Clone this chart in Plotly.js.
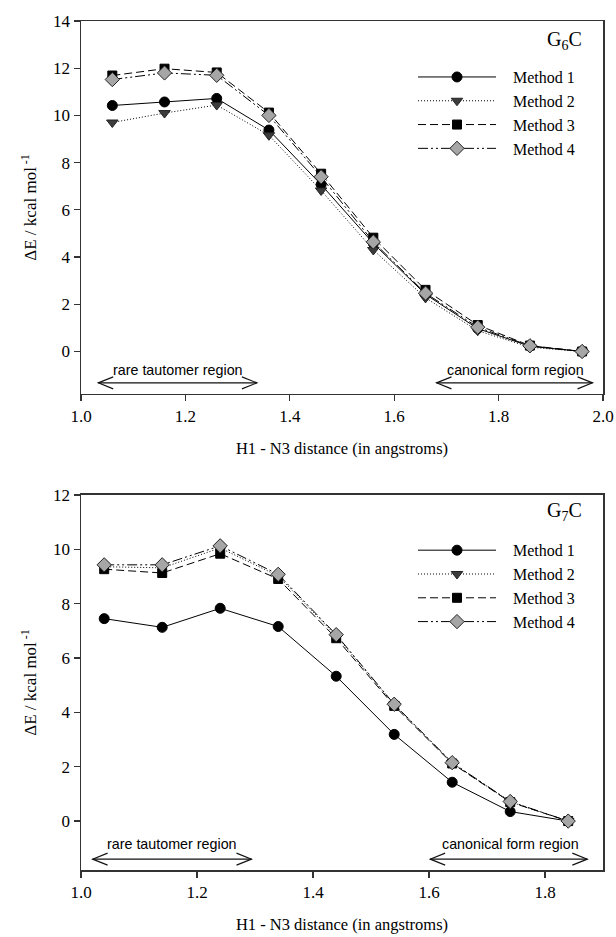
<!DOCTYPE html>
<html>
<head>
<meta charset="utf-8">
<script src="https://cdn.plot.ly/plotly-3.0.1.min.js"></script>
<style>html,body{margin:0;padding:0;background:#fff;}#chart{width:616px;height:937px;}</style>
</head>
<body>
<div id="chart"></div>
<script>
// ---- data ----
const methodNames = ["Method 1", "Method 2", "Method 3", "Method 4"];

const xG6C = [1.06, 1.16, 1.26, 1.36, 1.46, 1.56, 1.66, 1.76, 1.86, 1.96];
const g6cMethod1 = [10.42, 10.57, 10.72, 9.38, 7.07, 4.58, 2.42, 0.97, 0.22, 0];
const g6cMethod2 = [9.70, 10.10, 10.44, 9.16, 6.82, 4.30, 2.27, 0.88, 0.18, 0];
const g6cMethod3 = [11.69, 11.98, 11.82, 10.12, 7.53, 4.82, 2.61, 1.12, 0.25, 0];
const g6cMethod4 = [11.52, 11.80, 11.70, 10.00, 7.40, 4.64, 2.47, 1.03, 0.24, 0];

const xG7C = [1.04, 1.14, 1.24, 1.34, 1.44, 1.54, 1.64, 1.74, 1.84];
const g7cMethod1 = [7.45, 7.13, 7.83, 7.16, 5.33, 3.19, 1.43, 0.35, 0];
const g7cMethod2 = [9.36, 9.32, 10.05, 9.02, 6.82, 4.29, 2.14, 0.71, 0];
const g7cMethod3 = [9.27, 9.13, 9.84, 8.91, 6.73, 4.24, 2.12, 0.70, 0];
const g7cMethod4 = [9.43, 9.43, 10.13, 9.08, 6.86, 4.30, 2.15, 0.72, 0];

const xTitle = "H1 - N3 distance (in angstroms)";
const yTitle = "ΔE / kcal mol<sup> -1</sup>";
const panelLabels = ["G<sub>6</sub>C", "G<sub>7</sub>C"];
const regionLabels = ["rare tautomer region", "canonical form region"];
// region spans (x from, x to) per panel
const g6cRegions = [[1.033, 1.337], [1.681, 1.98]];
const g7cRegions = [[1.02, 1.294], [1.602, 1.873]];

// ---- styles ----
const SERIF = "Liberation Serif, Times New Roman, serif";
const SANS = "Liberation Sans, Arial, sans-serif";
const styles = [
  {dash: "solid", symbol: "circle", size: 10, color: "#000", lc: "#000"},
  {dash: "1px,2px", symbol: "triangle-down", size: 10, color: "#3c3c3c", lc: "#222"},
  {dash: "8px,4px", symbol: "square", size: 9, color: "#000", lc: "#000"},
  {dash: "10px,3px,2px,3px,2px,3px", symbol: "diamond", size: 11, color: "#a6a6a6", lc: "#222"}
];

function makeTraces(x, series, xa, ya, legendId) {
  return series.map((y, i) => ({
    type: "scatter", mode: "lines+markers",
    x: x, y: y, xaxis: xa, yaxis: ya, legend: legendId,
    name: "\u00a0\u00a0\u00a0" + methodNames[i],
    line: {color: "#000", width: 1, dash: styles[i].dash},
    marker: {symbol: styles[i].symbol, size: styles[i].size, color: styles[i].color,
             line: {color: styles[i].lc, width: 1}}
  }));
}

const traces = [].concat(
  makeTraces(xG6C, [g6cMethod1, g6cMethod2, g6cMethod3, g6cMethod4], "x", "y", "legend"),
  makeTraces(xG7C, [g7cMethod1, g7cMethod2, g7cMethod3, g7cMethod4], "x2", "y2", "legend2")
);

function xAxis(range, anchor) {
  return {
    range: range, anchor: anchor, tick0: 1, dtick: 0.2, tickformat: ".1f",
    ticks: "outside", ticklen: 6, tickwidth: 1.2, tickcolor: "#333",
    showline: true, mirror: true, linecolor: "#333", linewidth: 1.5,
    showgrid: false, zeroline: false,
    tickfont: {family: SERIF, size: 17, color: "#000"},
    title: {text: xTitle, font: {family: SERIF, size: 16.5, color: "#000"}}
  };
}
function yAxis(range, domain, anchor) {
  return {
    range: range, domain: domain, anchor: anchor, tick0: 0, dtick: 2,
    ticks: "outside", ticklen: 6, tickwidth: 1.2, tickcolor: "#333",
    showline: true, mirror: true, linecolor: "#333", linewidth: 1.5,
    showgrid: false, zeroline: false,
    tickfont: {family: SERIF, size: 17, color: "#000"},
    title: {text: yTitle, font: {family: SERIF, size: 17, color: "#000"}}
  };
}

// double-headed arrow: a line in data coords plus two pixel-sized chevrons
function arrowShapes(xref, yref, span, y) {
  const common = {xref: xref, yref: yref, line: {color: "#111", width: 1.1}};
  return [
    Object.assign({type: "line", x0: span[0], x1: span[1], y0: y, y1: y}, common),
    Object.assign({type: "path", xsizemode: "pixel", ysizemode: "pixel",
      xanchor: span[0], yanchor: y, path: "M15,6L0,0L15,-6"}, common),
    Object.assign({type: "path", xsizemode: "pixel", ysizemode: "pixel",
      xanchor: span[1], yanchor: y, path: "M-15,6L0,0L-15,-6"}, common)
  ];
}
function label(xref, yref, x, y, text) {
  return {xref: xref, yref: yref, x: x, y: y, text: text, showarrow: false,
    font: {family: SANS, size: 14.3, color: "#000"}, xanchor: "center", yanchor: "middle"};
}

const legendCommon = {
  xanchor: "left", yanchor: "top", bgcolor: "rgba(0,0,0,0)",
  font: {family: SERIF, size: 16, color: "#000"}, itemwidth: 78,
  tracegroupgap: 0
};

const layout = {
  width: 616, height: 937,
  margin: {l: 81, r: 13, t: 21, b: 67},
  paper_bgcolor: "#fff", plot_bgcolor: "#fff",
  showlegend: true,
  xaxis: xAxis([1.0, 2.0], "y"),
  yaxis: yAxis([-1.8, 14], [0.5607, 1], "x"),
  xaxis2: xAxis([1.0, 1.9], "y2"),
  yaxis2: yAxis([-1.8, 12], [0, 0.4417], "x2"),
  legend: Object.assign({x: 0.636, y: 0.954}, legendCommon),
  legend2: Object.assign({x: 0.636, y: 0.3966}, legendCommon),
  shapes: [].concat(
    arrowShapes("x", "y", g6cRegions[0], -1.33),
    arrowShapes("x", "y", g6cRegions[1], -1.33),
    arrowShapes("x2", "y2", g7cRegions[0], -1.40),
    arrowShapes("x2", "y2", g7cRegions[1], -1.40)
  ),
  annotations: [
    {xref: "paper", yref: "paper", x: 0.927, y: 0.9776, xanchor: "center", yanchor: "middle",
     text: panelLabels[0], showarrow: false, font: {family: SERIF, size: 20, color: "#000"}},
    {xref: "paper", yref: "paper", x: 0.927, y: 0.4217, xanchor: "center", yanchor: "middle",
     text: panelLabels[1], showarrow: false, font: {family: SERIF, size: 20, color: "#000"}},
    label("x", "y", (g6cRegions[0][0] + g6cRegions[0][1]) / 2, -0.77, regionLabels[0]),
    label("x", "y", 1.832, -0.77, regionLabels[1]),
    label("x2", "y2", (g7cRegions[0][0] + g7cRegions[0][1]) / 2, -0.86, regionLabels[0]),
    label("x2", "y2", 1.74, -0.86, regionLabels[1])
  ]
};

Plotly.newPlot("chart", traces, layout, {displayModeBar: false, staticPlot: true});
</script>
</body>
</html>
